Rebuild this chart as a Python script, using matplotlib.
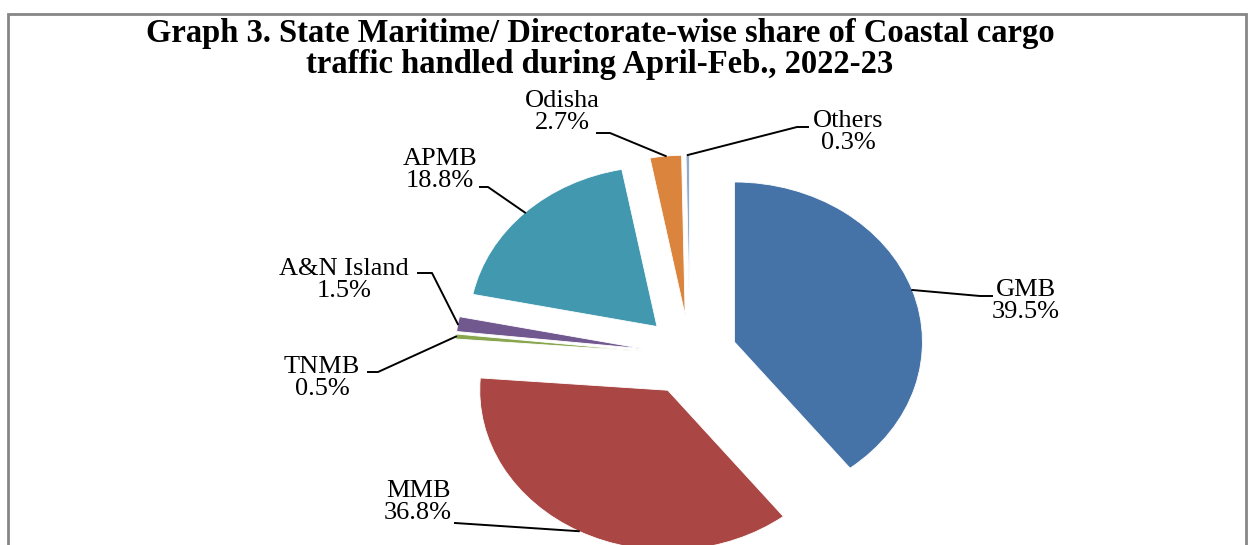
import numpy as np
import matplotlib.pyplot as plt
from matplotlib.patches import Rectangle

# Datos del gráfico
categorias = ["GMB", "MMB", "TNMB", "A&N Island", "APMB", "Odisha", "Others"]
porcentajes = [39.5, 36.8, 0.5, 1.5, 18.8, 2.7, 0.3]
colores = ["#4572A7", "#AA4643", "#89A54E", "#71588F", "#4198AF", "#DB843D", "#93A9CF"]

titulo = ("Graph 3. State Maritime/ Directorate-wise share of Coastal cargo\n"
          "traffic handled during April-Feb., 2022-23")

# Posiciones de etiquetas (pixeles de la figura, origen arriba-izquierda)
pos_etiqueta = [(1026, 301), (418, 502), (322, 378), (344, 280),
                (440, 170), (562, 112), (848, 132)]
# codo y final de la linea guia
codo = [(980, 296), (455, 523), (378, 372), (432, 273),
        (488, 187), (610, 133), (797, 127)]
fin = [(992, 296), (455, 523), (368, 372), (418, 273),
       (480, 187), (597, 133), (808, 127)]

W, H = 1248, 545
cx, cy = 690, 355      # centro del pastel en pixeles
rx, ry = 188, 160      # radios (imagen estirada)

plt.rcParams['font.family'] = ['Liberation Serif', 'DejaVu Serif']

fig = plt.figure(figsize=(W / 100, H / 100), dpi=100)
ax = fig.add_axes([0, 0, 1, 1])

wedges, _ = ax.pie(porcentajes, colors=colores, startangle=90, counterclock=False,
                   explode=[0.25] * len(porcentajes),
                   wedgeprops=dict(edgecolor="white", linewidth=0.6))

ax.set_aspect('auto')
ax.set_xlim(-cx / rx, (W - cx) / rx)
ax.set_ylim(-(H - cy) / ry, cy / ry)
ax.axis('off')


def a_datos(px, py):
    return (px - cx) / rx, (cy - py) / ry


for w, nombre, p, et, c, f in zip(wedges, categorias, porcentajes, pos_etiqueta, codo, fin):
    # la guia sale del borde en el angulo medio de la porcion
    ang = np.deg2rad((w.theta1 + w.theta2) / 2)
    x0 = w.center[0] + w.r * np.cos(ang)
    y0 = w.center[1] + w.r * np.sin(ang)
    xc, yc = a_datos(*c)
    xf, yf = a_datos(*f)
    ax.plot([x0, xc, xf], [y0, yc, yf], color="black", lw=1.4)
    xt, yt = a_datos(*et)
    ax.text(xt, yt, f"{nombre}\n{p:.1f}%", ha="center", va="center",
            fontsize=19, linespacing=0.98)

fig.text(600 / W, 1 - 49 / H, titulo, ha="center", va="center",
         fontsize=23.5, fontweight="bold", linespacing=1.04)

# marco del gráfico
fig.patches.append(Rectangle((8 / W, -0.05), (1246 - 8) / W, 1.05 - 14 / H,
                             transform=fig.transFigure, fill=False,
                             edgecolor="#868686", linewidth=2))

fig.savefig("out.png", dpi=100, facecolor="white")
